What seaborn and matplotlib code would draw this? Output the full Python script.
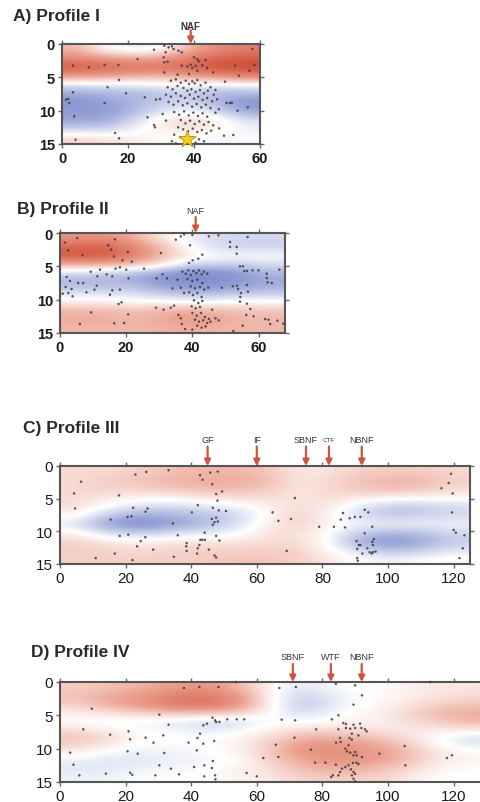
import numpy as np
import pandas as pd
import matplotlib
matplotlib.use("Agg")
import matplotlib.pyplot as plt
from matplotlib.colors import LinearSegmentedColormap
import seaborn as sns

sns.set_theme(style="white")
plt.rcParams['font.family'] = ['Liberation Sans', 'DejaVu Sans']

# ---------------- data ----------------
depth_rows = [0, 1.5, 3, 4.5, 6, 7.5, 9, 10.5, 12, 13.5, 15]

field_A = [
    [0.30, 0.00, -0.10, -0.05, 0.30, 0.50, 0.60],
    [0.50, 0.40, 0.30, 0.35, 0.60, 0.75, 0.80],
    [0.85, 0.80, 0.70, 0.70, 0.80, 0.90, 0.95],
    [0.45, 0.40, 0.35, 0.30, 0.40, 0.50, 0.60],
    [-0.15, -0.10, -0.10, -0.05, -0.05, -0.10, -0.05],
    [-0.35, -0.30, -0.30, -0.25, -0.20, -0.30, -0.30],
    [-0.45, -0.40, -0.30, -0.20, -0.15, -0.30, -0.45],
    [-0.40, -0.40, -0.30, -0.10, 0.00, -0.15, -0.35],
    [-0.35, -0.35, -0.15, 0.10, 0.20, 0.10, -0.10],
    [-0.15, -0.15, -0.05, 0.05, 0.10, 0.00, -0.05],
    [0.20, 0.15, 0.10, 0.00, 0.00, -0.05, 0.00],
]
field_B = [
    [0.45, 0.50, 0.35, 0.10, -0.05, -0.15, -0.15, -0.15],
    [0.75, 0.80, 0.60, 0.30, 0.00, -0.15, -0.20, -0.20],
    [0.85, 0.85, 0.65, 0.35, 0.10, 0.00, 0.00, 0.00],
    [0.30, 0.30, 0.25, 0.10, -0.15, -0.20, -0.20, -0.15],
    [-0.20, -0.25, -0.30, -0.40, -0.55, -0.50, -0.40, -0.30],
    [-0.30, -0.30, -0.30, -0.40, -0.50, -0.50, -0.40, -0.35],
    [-0.15, -0.15, -0.15, -0.25, -0.30, -0.30, -0.25, -0.25],
    [0.05, 0.05, 0.00, 0.00, -0.05, -0.05, 0.00, 0.00],
    [0.30, 0.30, 0.25, 0.30, 0.35, 0.30, 0.25, 0.25],
    [0.35, 0.35, 0.30, 0.35, 0.45, 0.40, 0.30, 0.30],
    [0.30, 0.30, 0.30, 0.30, 0.35, 0.30, 0.30, 0.30],
]
field_C = [
    [0.15, 0.15, 0.20, 0.25, 0.30, 0.30, 0.25, 0.10, 0.10, 0.20, 0.20, 0.20, 0.15],
    [0.15, 0.20, 0.25, 0.30, 0.35, 0.35, 0.30, 0.10, 0.15, 0.25, 0.30, 0.30, 0.20],
    [0.15, 0.20, 0.20, 0.25, 0.30, 0.30, 0.25, 0.10, 0.15, 0.25, 0.30, 0.25, 0.15],
    [0.15, 0.10, 0.05, 0.05, 0.10, 0.15, 0.15, 0.10, 0.15, 0.10, 0.05, 0.05, 0.05],
    [0.15, 0.00, -0.10, -0.15, -0.10, -0.05, 0.05, 0.15, 0.10, -0.10, -0.20, -0.20, -0.15],
    [0.05, -0.20, -0.35, -0.30, -0.25, -0.20, 0.00, 0.20, 0.05, -0.15, -0.25, -0.20, -0.15],
    [-0.10, -0.40, -0.50, -0.40, -0.30, -0.15, 0.05, 0.20, 0.05, -0.05, -0.05, -0.05, -0.05],
    [0.05, -0.15, -0.20, -0.15, -0.10, -0.05, 0.10, 0.15, 0.00, -0.20, -0.30, -0.25, -0.15],
    [0.20, 0.10, 0.05, 0.10, 0.10, 0.10, 0.15, 0.15, 0.00, -0.35, -0.45, -0.35, -0.20],
    [0.20, 0.20, 0.15, 0.20, 0.20, 0.20, 0.20, 0.20, 0.05, -0.15, -0.25, -0.20, -0.10],
    [0.20, 0.20, 0.20, 0.20, 0.20, 0.25, 0.25, 0.20, 0.10, 0.00, -0.05, 0.00, 0.05],
]
field_D = [
    [0.20, 0.25, 0.30, 0.40, 0.45, 0.30, 0.00, -0.10, 0.00, 0.00, 0.05, 0.10, 0.10],
    [0.25, 0.35, 0.45, 0.60, 0.65, 0.45, 0.00, -0.20, -0.05, 0.00, 0.05, 0.10, 0.15],
    [0.20, 0.35, 0.45, 0.65, 0.70, 0.50, 0.00, -0.25, -0.05, 0.00, 0.10, 0.20, 0.25],
    [0.05, 0.10, 0.15, 0.20, 0.20, 0.15, 0.00, -0.15, 0.00, 0.05, 0.15, 0.30, 0.35],
    [0.00, -0.05, -0.05, -0.10, -0.20, -0.15, 0.00, 0.00, 0.05, 0.05, 0.10, 0.20, 0.30],
    [0.20, 0.10, 0.00, 0.00, -0.05, 0.00, 0.10, 0.20, 0.20, 0.15, 0.10, 0.05, 0.00],
    [0.25, 0.15, 0.00, 0.00, 0.00, 0.05, 0.20, 0.40, 0.40, 0.35, 0.20, 0.00, -0.15],
    [0.10, 0.00, -0.05, -0.05, 0.00, 0.05, 0.25, 0.50, 0.50, 0.45, 0.30, 0.10, 0.00],
    [-0.05, -0.10, -0.10, -0.05, -0.05, 0.00, 0.20, 0.40, 0.50, 0.45, 0.30, 0.10, 0.05],
    [-0.10, -0.10, -0.05, -0.05, 0.00, 0.05, 0.15, 0.30, 0.35, 0.30, 0.20, 0.05, 0.00],
    [-0.05, -0.05, 0.00, 0.00, 0.00, 0.05, 0.10, 0.20, 0.20, 0.20, 0.10, 0.00, 0.00],
]

quakes_A = [
    (27.9,0.85),(31,0.25),(32.3,0.5),(33.3,0.35),(33.8,0.75),(31.4,1.25),(35.3,1.0),(36.3,1.25),
    (30.8,2.0),(31,2.75),(32,2.65),(22.9,2.25),(12.9,3.15),(17.1,3.15),(3.3,3.25),(8.1,3.5),
    (31,4.25),(36.3,3.25),(38,3.4),(39,3.1),(39.5,3.6),(40.5,3.3),(41.5,2.6),(42.5,3.2),(43.5,2.4),
    (44,3.6),(41,4.0),(45.8,4.25),(40,2.0),(41,2.3),(38.5,4.5),(35,4.6),(52.4,3.25),(57.7,0.75),
    (58.3,3.15),(56.8,4.0),(53.6,4.75),(49.4,5.65),(17.3,5.4),(13.8,6.5),(3.3,7.25),(19.4,7.4),
    (1.2,8.35),(1.9,8.25),(2.2,8.85),(12.9,8.85),(25.1,8.0),(28.5,8.35),(29.7,8.25),(49.9,8.85),
    (50.9,8.85),(51.5,8.8),(56.3,9.5),(53.2,10.0),(3.7,10.85),(25.9,11.0),(27.9,12.15),(28.2,12.5),
    (16.1,13.35),(17.3,14.15),(4.1,14.35),(49.1,13.75),(51.9,13.65),(47.6,12.65),
    (33,5.5),(34.5,5.3),(36,5.8),(37.5,5.5),(38.5,6.0),(39.5,5.6),(40.2,5.9),(41,5.4),(42,6.2),
    (43.5,5.8),(45,6.5),(46.5,6.9),(32,6.5),(33.5,6.8),(35,6.3),(36.8,6.6),(38,7.0),(39.2,6.8),
    (40.5,7.2),(41.8,6.9),(43,7.4),(44.2,7.0),(46,7.6),(31.5,7.6),(33,7.9),(34.5,7.4),(36,7.8),
    (37.3,8.1),(38.7,7.6),(40,8.2),(41.3,7.9),(42.6,8.4),(44,8.1),(45.5,8.6),(47,8.3),(32.3,8.7),
    (33.8,9.1),(35.2,8.6),(36.6,9.2),(38,8.9),(39.4,9.4),(40.8,9.0),(42.2,9.5),(43.6,9.1),(45,9.6),
    (34,10.2),(35.5,10.6),(37,10.1),(38.4,10.7),(39.8,10.3),(41.2,10.8),(42.6,10.4),(44,10.9),
    (36,11.4),(37.4,11.9),(38.8,11.5),(40.2,12.0),(41.6,11.6),(43,12.1),(44.4,11.7),(45.8,12.2),
    (35.2,12.5),(36.7,12.8),(38.2,13.1),(39.6,12.7),(41,13.2),(42.4,12.9),(43.8,13.4),(45.2,13.0),
    (34,13.6),(36,14.0),(39.5,14.0),(41.5,14.3),(43,14.6),(33.3,14.6),(34.5,14.9),(40.5,14.8),
    (30.5,10.5),(31.5,11.5),(46.5,10.3),(47.5,9.8),
]
quakes_B = [
    (1.5,1.45),(2.5,2.6),(5.2,0.75),(6.8,3.35),(14.6,1.85),(15.4,2.5),(16.6,0.95),(16.3,3.5),
    (18.9,4.1),(20.5,2.85),(2,6.6),(3,7.2),(5.5,7.5),(3.5,8.4),(2.5,9.0),(3.8,9.5),(1.7,8.1),
    (0.8,9.1),(9.3,5.8),(12.1,5.5),(14.1,6.2),(15.8,6.5),(16.8,5.35),(18.1,5.15),(20,5.5),
    (21.7,4.3),(25.4,5.35),(20.7,6.8),(18.1,8.5),(15.8,8.6),(15.1,9.25),(11.1,7.9),(10.4,8.5),
    (7,7.5),(11.3,6.5),(8,8.9),(17.7,10.65),(18.6,10.4),(9.4,11.9),(6,13.65),(16.4,13.55),
    (19.4,13.5),(20.6,12.2),(29,11.2),(31.3,11.5),(33.5,11.2),(34.5,10.9),(35.8,12.3),(36.5,12.8),
    (36.8,13.65),(37.8,14.4),(29.2,6.8),(31,6.2),(32.3,6.8),(30.5,3.0),(35,1.0),(36.5,0.5),
    (37.5,0.2),(39.3,1.85),(40.1,4.1),(41.8,3.85),(43,3.25),(40,0.3),(45,0.5),(47.9,0.35),
    (51.4,1.35),(51.4,2.1),(53.4,2.1),(53.4,3.1),(56.7,0.6),(54.4,5.0),(55.3,5.0),(55.7,5.7),
    (56.5,5.7),(58.2,5.6),(60,5.6),(62.5,6.1),(62.5,6.75),(62.7,7.4),(66.3,5.5),(64,7.5),
    (48.9,8.2),(52.2,8.0),(53.5,7.9),(53.8,8.4),(54.7,9.0),(56.8,8.8),(56.5,7.8),(54.5,9.6),
    (54.4,10.3),(56.5,10.6),(57.5,11.4),(56.3,12.3),(58.5,12.5),(62,12.9),(63,13.0),(65.7,13.15),
    (63.5,13.65),(52.4,14.7),(55.2,13.9),(67.5,13.6),(47,12.8),(48,13.1),
    (37,5.8),(38,6.1),(38.8,5.6),(39.5,6.3),(40.3,5.7),(41.2,6.0),(42,5.6),(42.8,6.2),(43.5,5.8),
    (44.5,6.1),(38.5,6.9),(40,7.2),(41.5,7.0),(43,7.5),(39.5,8.0),(40.8,8.3),(42.3,8.1),(43.6,8.5),
    (44.8,8.2),(39,8.9),(40.2,9.3),(41.5,9.0),(42.8,9.6),(40.5,10.1),(41.8,10.5),(43,10.2),
    (39.8,11.0),(41,11.3),(42.3,11.1),(40,12.0),(41.3,12.4),(42.6,12.0),(43.8,12.6),(45,12.9),
    (40.8,13.0),(42,13.3),(43.3,13.1),(44.5,13.5),(41.5,13.9),(42.8,14.2),(44,14.0),(40,14.5),
    (37.5,9.0),(36.5,8.2),(35.5,7.0),(34,8.3),(45.5,13.3),(46,11.5),(39,4.5),
]
quakes_C = [
    (4.3,4.2),(6.4,2.4),(4.6,6.5),(18,4.5),(23,1.3),(26.3,0.9),(33.1,0.65),(42.7,1.4),(43.5,2.1),
    (45.8,1.0),(48.1,0.85),(46.4,2.8),(49.4,3.9),(47.6,4.3),(48,5.3),(46.6,6.4),(48.4,6.8),
    (50.6,6.9),(47.6,7.9),(46.3,8.1),(47.1,8.6),(48.1,8.5),(46.6,9.0),(44.1,10.2),(43.4,11.3),
    (42.8,11.3),(44.2,11.3),(42.5,12.1),(42,12.6),(41.8,13.4),(45.4,12.8),(47.1,13.7),(47.6,14.0),
    (48.6,11.4),(47.6,10.7),(42,6.0),(40.2,7.1),(34.4,8.8),(35.9,10.6),(34.7,13.9),(38.6,11.8),
    (38.5,12.3),(38.6,13.0),(15.4,8.2),(18.2,10.7),(20.8,10.5),(20.6,7.8),(21.8,7.7),(22.3,6.4),
    (26.1,7.0),(26.7,6.5),(26,10.9),(24.6,11.5),(23.5,12.3),(28.4,12.8),(16.7,13.4),(10.9,14.1),
    (22.1,14.4),(64.8,7.1),(66.6,8.4),(70.4,8.1),(71.6,4.9),(69.1,13.0),(79,9.3),(83.5,9.3),
    (85.6,8.2),(86.3,7.2),(86.9,9.4),(88.3,8.0),(89.9,7.8),(91.6,7.8),(92.9,6.7),(94,7.1),
    (92.9,10.3),(95.2,9.3),(90.4,11.5),(91.1,12.1),(91.6,12.1),(90.6,12.7),(92.2,13.4),(90.6,14.1),
    (90.8,14.5),(93.7,12.6),(94.4,13.2),(95,13.4),(95.4,13.2),(95.4,12.1),(95.2,11.6),(95.7,11.2),
    (96.2,13.1),(116.3,3.4),(118.5,2.6),(119.2,1.2),(119.7,4.2),(119.5,7.1),(120,9.8),(120.7,10.2),
    (123.3,10.6),(122.8,12.6),(121.8,14.1),
]
quakes_D = [
    (9.7,4.0),(7.1,7.1),(15.3,7.9),(3.1,10.6),(4.1,12.4),(5.9,14.0),(14,13.75),(20.9,7.4),(21.4,8.6),
    (20.6,10.4),(23.7,10.75),(26.1,8.35),(28.5,9.1),(30.3,4.9),(31.5,8.0),(33.1,6.4),(31.8,10.65),
    (30.3,12.5),(33.8,13.0),(29.1,14.0),(36.3,13.85),(21.4,13.6),(22,13.9),(37.8,0.9),(42.5,0.75),
    (48.3,0.75),(53.6,0.0),(46.5,5.35),(47.3,5.75),(47.6,6.0),(48.6,6.0),(44.8,6.25),(43.7,6.5),
    (51,5.6),(53.9,5.6),(56.2,5.6),(42.7,7.75),(41.9,8.4),(47,8.85),(43.7,9.25),(39.2,9.1),
    (41.7,10.25),(46.6,11.85),(40.9,12.75),(44,12.5),(46.3,12.9),(47.3,14.0),(44,14.15),(47.4,14.6),
    (56.9,13.65),(60,14.15),(62,11.4),(65.8,9.4),(66.6,11.25),(66.9,0.9),(71.9,0.75),(67.6,5.65),
    (71.7,5.75),(71.5,8.35),(76.5,10.15),(78.1,7.1),(77.8,12.1),(82.9,5.6),(84.1,0.25),(84.9,5.0),
    (86.4,6.15),(84.9,7.1),(85.4,8.4),(84.2,9.1),(85.6,9.0),(87.2,6.9),(87.2,6.3),(88.5,7.0),
    (89.5,6.4),(90,6.9),(89,7.75),(88.3,8.4),(89,8.65),(88,9.5),(87,10.0),(87.5,10.4),(88.5,10.6),
    (89.5,11.0),(90,10.5),(90.5,11.0),(92.1,11.25),(89.3,12.15),(90.4,12.1),(91,12.3),(88,12.5),
    (87,12.75),(86,13.0),(88.7,13.1),(89.5,13.5),(90,13.8),(89,14.0),(89.5,14.5),(90,14.9),
    (85.4,13.5),(84.9,14.0),(83.2,14.0),(82.7,14.25),(80.9,12.1),(84.1,12.4),(89.5,3.4),(92.1,2.0),
    (90,0.5),(97.4,10.75),(105.1,9.6),(105.3,12.5),(118,11.4),(119.5,11.0),(112.9,0.0),(91.9,6.9),
    (93,7.1),(93.5,7.4),(91.5,6.25),(91,8.0),
]

titles = ["A) Profile I", "B) Profile II", "C) Profile III", "D) Profile IV"]
x_max = [60, 68, 125, 129.6]
x_ticks = [[0, 20, 40, 60], [0, 20, 40, 60], [0, 20, 40, 60, 80, 100, 120],
           [0, 20, 40, 60, 80, 100, 120]]
depth_ticks = [0, 5, 10, 15]
fault_names = [["NAF"], ["NAF"], ["GF", "IF", "SBNF", "CTF", "NBNF"], ["SBNF", "WTF", "NBNF"]]
fault_pos = [[39], [41], [45, 60, 75, 82, 92], [71, 82.6, 92]]
star_A = (38, 14.2)

# ---------------- figure ----------------
W, H = 480, 803
fig = plt.figure(figsize=(W / 100, H / 100), dpi=100)

# axes boxes in pixels: left, top, right, bottom
boxes = [(62, 45, 260, 145), (60, 234, 285, 334), (60, 467, 470, 565), (60, 683, 485, 783)]
title_xy = [(13, 16), (17, 210), (23, 429), (31, 653)]
label_off = [13, 16, 19, 18.5]   # points above top for fault labels
arrow_off = [10, 11.5, 14, 13]   # points above top for arrow tails
fields = [field_A, field_B, field_C, field_D]
quakes = [quakes_A, quakes_B, quakes_C, quakes_D]

cmap = LinearSegmentedColormap.from_list(
    "rwb", [(0.0, "#3d52a6"), (0.3, "#8f9cd4"), (0.5, "#ffffff"), (0.7, "#eba08f"), (1.0, "#cc3f27")])

red = "#cf5440"
for i in range(4):
    l, t, r, b = boxes[i]
    ax = fig.add_axes([l / W, 1 - b / H, (r - l) / W, (b - t) / H])
    Z = np.array(fields[i])
    ax.imshow(Z, cmap=cmap, vmin=-1, vmax=1, extent=[0, x_max[i], 15, 0],
              interpolation="bicubic", aspect="auto", origin="upper", zorder=0)
    df = pd.DataFrame(quakes[i], columns=["dist", "depth"])
    sns.scatterplot(data=df, x="dist", y="depth", ax=ax, s=3.2, color="#3a3a3a", alpha=0.85,
                    edgecolor="none", linewidth=0, zorder=3, clip_on=False, legend=False)
    if i == 0:
        ax.scatter([star_A[0]], [star_A[1]], marker="*", s=170, color="#f3d21c",
                   edgecolor="#b08a10", linewidth=0.6, zorder=4, clip_on=False)
    ax.set_xlim(0, x_max[i])
    ax.set_ylim(15, 0)
    ax.set_xticks(x_ticks[i])
    ax.set_yticks(depth_ticks)
    ax.set_xlabel("")
    ax.set_ylabel("")
    fs = 10.5 if i < 2 else 11
    ax.tick_params(axis="both", which="both", labelsize=fs, colors="#666666",
                   labelcolor="#1a1a1a", length=3, width=1, direction="out", pad=2,
                   top=True, right=True, bottom=True, left=True)
    for lab in ax.get_xticklabels() + ax.get_yticklabels():
        lab.set_fontweight("bold" if i < 2 else "normal")
    for sp in ax.spines.values():
        sp.set_color("#555555")
        sp.set_linewidth(1.5)
        sp.set_visible(True)
    # faults
    for name, xp in zip(fault_names[i], fault_pos[i]):
        ax.annotate("", xy=(xp, 0), xycoords="data", xytext=(0, arrow_off[i]),
                    textcoords="offset points", annotation_clip=False,
                    arrowprops=dict(arrowstyle="-|>", color=red, lw=1.6,
                                    mutation_scale=9, shrinkA=0, shrinkB=0))
        fsz = 4.5 if name == "CTF" else (7 if i == 0 else 6.5)
        ax.annotate(name, xy=(xp, 0), xycoords="data", xytext=(0, label_off[i]),
                    textcoords="offset points", ha="center", va="center",
                    fontsize=fsz, fontweight="bold" if i == 0 else "normal",
                    color="#333333", annotation_clip=False)
    tx, ty = title_xy[i]
    fig.text(tx / W, 1 - ty / H, titles[i], fontsize=12.5, fontweight="bold",
             color="#2a2a2a", ha="left", va="center")

fig.savefig("out.png", dpi=100, facecolor="white")
